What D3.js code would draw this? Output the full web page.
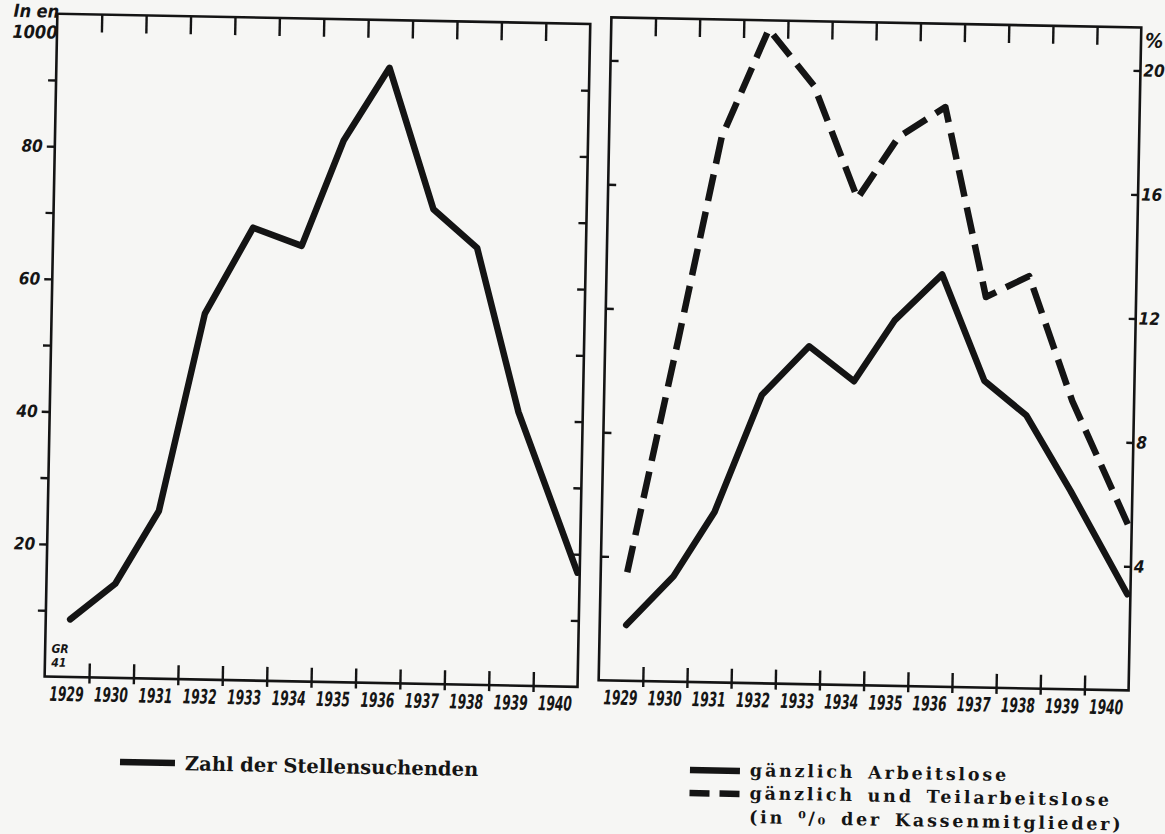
<!DOCTYPE html>
<html>
<head>
<meta charset="utf-8">
<script src="https://cdn.jsdelivr.net/npm/d3@7"></script>
<style>
body { margin: 0; background: #f6f6f4; }
svg { display: block; }
.num { font-family: "DejaVu Sans Condensed", "DejaVu Sans", sans-serif; font-weight: bold; font-style: italic; fill: #151515; }
.leg { font-family: "DejaVu Serif", serif; font-weight: bold; fill: #151515; }
</style>
</head>
<body>
<svg id="chart" width="1165" height="834"></svg>
<script>
////////////////////////////////////////////////////////////////////////////////////
// Data
var years = [1929, 1930, 1931, 1932, 1933, 1934, 1935, 1936, 1937, 1938, 1939, 1940];
// left panel: job seekers, in 1000
var stellensuchende = [8.7, 14.2, 25.3, 55.2, 68.3, 65.7, 81.7, 92.8, 71.6, 65.9, 41.3, 17.2];
var posLeft = [1929.55, 1930.55, 1931.5, 1932.45, 1933.5, 1934.6, 1935.5, 1936.5, 1937.55, 1938.55, 1939.55, 1940.95];
// right panel: % of insured members
var gaenzlich = [1.8, 3.4, 5.5, 9.3, 10.9, 9.8, 11.8, 13.3, 9.9, 8.8, 6.4, 3.1];
var gaenzlichTeil = [3.5, 11.0, 17.6, 21.1, 19.3, 15.7, 17.7, 18.7, 12.6, 13.3, 9.3, 5.3];
var posRight = [1929.6, 1930.65, 1931.55, 1932.57, 1933.62, 1934.65, 1935.55, 1936.6, 1937.6, 1938.57, 1939.6, 1940.93];
// tick values
var leftTicks = [10, 20, 30, 40, 50, 60, 70, 80, 90];
var leftTickLabels = [20, 40, 60, 80];
var rightTicks = [4, 8, 12, 16, 20];
var yearBounds = [1930, 1931, 1932, 1933, 1934, 1935, 1936, 1937, 1938, 1939, 1940];

var ink = "#141414";

////////////////////////////////////////////////////////////////////////////////////
var svg = d3.select("#chart");
// the scan is tilted by about one degree
var page = svg.append("g").attr("transform", "rotate(1.1,590,350)");

var xL = d3.scaleLinear().domain([1929, 1941]).range([51, 584]);
var yL = d3.scaleLinear().domain([0, 100]).range([687, 24]);
var xR = d3.scaleLinear().domain([1929, 1941]).range([605, 1135]);
var yR = d3.scaleLinear().domain([0, 20]).range([680, 60]);
var rightTop = 17;

function styleAxis(g) {
  g.select(".domain").remove();
  g.selectAll(".tick line").attr("stroke", ink).attr("stroke-width", 2.4);
  g.selectAll(".tick text").attr("class", "num").style("font-size", "17px").attr("fill", ink);
}

// Frames
page.append("rect")
    .attr("x", xL(1929)).attr("y", yL(100))
    .attr("width", xL(1941) - xL(1929)).attr("height", yL(0) - yL(100))
    .attr("fill", "none").attr("stroke", ink).attr("stroke-width", 2.6);
page.append("rect")
    .attr("x", xR(1929)).attr("y", rightTop)
    .attr("width", xR(1941) - xR(1929)).attr("height", yR(0) - rightTop)
    .attr("fill", "none").attr("stroke", ink).attr("stroke-width", 2.6);

// Year ticks (bottom, pointing up and a bit down) and top ticks (pointing down)
function yearAxes(x, yBottom, yTop) {
  page.append("g")
      .attr("transform", "translate(0," + yBottom + ")")
      .call(d3.axisBottom(x).tickValues(yearBounds).tickSize(-14).tickFormat(""))
      .call(styleAxis)
      .selectAll(".tick line").attr("y1", 6);
  page.append("g")
      .attr("transform", "translate(0," + yTop + ")")
      .call(d3.axisTop(x).tickValues(yearBounds).tickSize(-18).tickFormat(""))
      .call(styleAxis);
  // narrow hand lettering: squeeze the labels horizontally
  page.append("g").selectAll("text")
      .data(years)
      .enter()
      .append("text")
      .attr("class", "num")
      .attr("transform", function(d) { return "translate(" + x(d + 0.5) + "," + (yBottom + 24) + ") scale(0.68,1)"; })
      .attr("text-anchor", "middle")
      .style("font-size", "20px")
      .text(function(d) { return d; });
}
yearAxes(xL, yL(0), yL(100));
yearAxes(xR, yR(0), rightTop);

// Left panel value axis
page.append("g")
    .attr("transform", "translate(" + xL(1929) + ",0)")
    .call(d3.axisLeft(yL).tickValues(leftTicks).tickSize(8).tickPadding(4)
      .tickFormat(function(d) { return leftTickLabels.includes(d) ? d : ""; }))
    .call(styleAxis);
page.append("g")
    .attr("transform", "translate(" + xL(1941) + ",0)")
    .call(d3.axisLeft(yL).tickValues(leftTicks).tickSize(8).tickFormat(""))
    .call(styleAxis);
page.append("text").attr("class", "num").attr("x", 30).attr("y", 28)
    .attr("text-anchor", "middle").style("font-size", "18px").text("In en");
page.append("text").attr("class", "num").attr("x", 29).attr("y", 49)
    .attr("text-anchor", "middle").style("font-size", "18px").text("1000");
page.append("text").attr("class", "num").attr("x", xL(1929) + 15).attr("y", yL(0) - 24)
    .attr("text-anchor", "middle").style("font-size", "12px").text("GR");
page.append("text").attr("class", "num").attr("x", xL(1929) + 14).attr("y", yL(0) - 10)
    .attr("text-anchor", "middle").style("font-size", "12px").text("41");

// Right panel value axes (ticks point inward on both sides)
page.append("g")
    .attr("transform", "translate(" + xR(1929) + ",0)")
    .call(d3.axisRight(yR).tickValues(rightTicks).tickSize(8).tickFormat(""))
    .call(styleAxis);
page.append("g")
    .attr("transform", "translate(" + xR(1941) + ",0)")
    .call(d3.axisRight(yR).tickValues(rightTicks).tickSize(-7).tickPadding(3))
    .call(styleAxis);
page.append("text").attr("class", "num").attr("x", xR(1941) + 4).attr("y", 37)
    .style("font-size", "20px").text("%");

// Lines
var lineLeft = d3.line()
    .x(function(d, i) { return xL(posLeft[i]); })
    .y(function(d) { return yL(d); });
var lineRight = d3.line()
    .x(function(d, i) { return xR(posRight[i]); })
    .y(function(d) { return yR(d); });

page.append("path")
    .datum(stellensuchende)
    .attr("d", lineLeft)
    .attr("fill", "none").attr("stroke", ink)
    .attr("stroke-width", 6.5).attr("stroke-linejoin", "round").attr("stroke-linecap", "round");
page.append("path")
    .datum(gaenzlich)
    .attr("d", lineRight)
    .attr("fill", "none").attr("stroke", ink)
    .attr("stroke-width", 6.5).attr("stroke-linejoin", "round").attr("stroke-linecap", "round");
page.append("path")
    .datum(gaenzlichTeil)
    .attr("d", lineRight)
    .attr("fill", "none").attr("stroke", ink)
    .attr("stroke-width", 6.5).attr("stroke-linejoin", "round")
    .attr("stroke-dasharray", "27,11");

// Legends
page.append("line").attr("x1", 128).attr("x2", 183).attr("y1", 771).attr("y2", 771)
    .attr("stroke", ink).attr("stroke-width", 6.5);
page.append("text").attr("class", "leg").attr("x", 193).attr("y", 778)
    .style("font-size", "19.5px").text("Zahl der Stellensuchenden");

page.append("line").attr("x1", 698).attr("x2", 748).attr("y1", 768).attr("y2", 768)
    .attr("stroke", ink).attr("stroke-width", 6.5);
page.append("line").attr("x1", 698).attr("x2", 748).attr("y1", 791).attr("y2", 791)
    .attr("stroke", ink).attr("stroke-width", 6.5).attr("stroke-dasharray", "20,10");
var legR = page.append("g").attr("class", "leg")
    .style("font-size", "17.5px").style("letter-spacing", "2.8px").style("word-spacing", "4px");
legR.append("text").attr("x", 758).attr("y", 773).text("gänzlich Arbeitslose");
legR.append("text").attr("x", 758).attr("y", 796).text("gänzlich und Teilarbeitslose");
legR.append("text").attr("x", 758).attr("y", 820).text("(in \u2070/\u2080 der Kassenmitglieder)");
</script>
</body>
</html>
